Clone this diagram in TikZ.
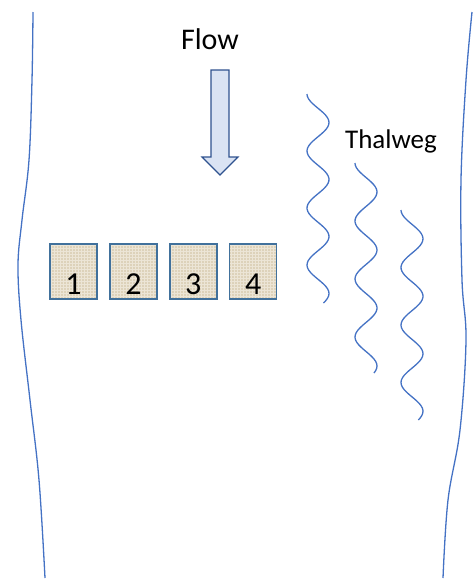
\documentclass[tikz,border=0pt]{standalone}
\usepackage{fontspec}
\setmainfont{Carlito}
\usepackage{tikz}
\usetikzlibrary{positioning,patterns}
\definecolor{bankblue}{RGB}{68,114,196}
\definecolor{arrowfill}{RGB}{218,227,243}
\definecolor{arrowline}{RGB}{47,82,143}
\definecolor{pierline}{RGB}{65,113,156}
\definecolor{pierfill}{RGB}{221,210,186}
\definecolor{piergrain}{RGB}{236,229,214}

\begin{document}
\begin{tikzpicture}[x=1pt,y=-1pt,
  bank/.style={draw=bankblue,line width=1.3pt},
  pier/.style={draw=pierline,preaction={fill=pierfill},pattern=grid,pattern color=piergrain,line width=1.4pt,
    minimum width=47pt,minimum height=55pt,inner sep=0pt,text height=45pt,text depth=0pt,font=\fontsize{32}{38}\selectfont},
  caption/.style={anchor=base,inner sep=0pt,font=\fontsize{27}{32}\selectfont}]
 \useasboundingbox (0,0) rectangle (474,584);
 % river banks
 \draw[bank] plot[smooth,tension=0.6] coordinates {(33,12) (32,80) (29,160) (22,220) (18,265) (21,320) (30,400) (39,480) (45,578)};
 \draw[bank] plot[smooth,tension=0.6] coordinates {(472,12) (466,80) (461,180) (462,280) (466,340) (460,430) (448,500) (443,578)};
 % flow
 \node[caption,font=\fontsize{30}{36}\selectfont] (flowlabel) at (210,49) {Flow};
 \draw[draw=arrowline,fill=arrowfill,line width=1.1pt] (211,70) -- (229,70) -- (229,157) -- (238,157) -- (220,175) -- (202,157) -- (211,157) -- cycle;
 % piers
 \node[pier] (pier1) at (73.5,271.5) {1};
 \node[pier,right=11.5pt of pier1] (pier2) {2};
 \node[pier,right=11.5pt of pier2] (pier3) {3};
 \node[pier,right=11.5pt of pier3] (pier4) {4};
 % thalweg
 \node[caption] (thalweglabel) at (391,148) {Thalweg};
 \draw[bank] plot[domain=94:303,samples=90,smooth,variable=\t] ({318-11*cos(6.316*(\t-94))},\t);
 \draw[bank] plot[domain=163:373,samples=90,smooth,variable=\t] ({366-11*cos(6.207*(\t-163))},\t);
 \draw[bank] plot[domain=210:420,samples=90,smooth,variable=\t] ({412-11*cos(6.261*(\t-210))},\t);
\end{tikzpicture}
\end{document}
